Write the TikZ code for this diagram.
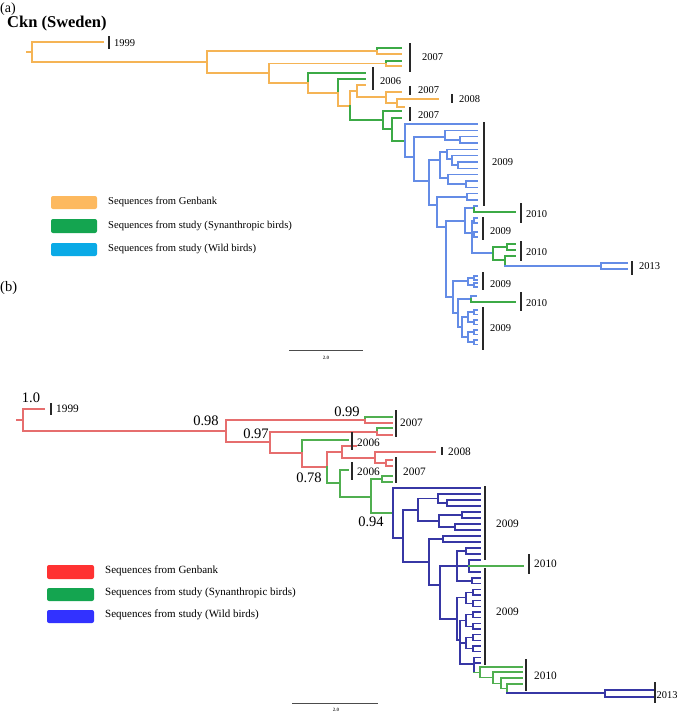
\documentclass[tikz,border=0pt]{standalone}
\usepackage{fontspec}
\setmainfont{Liberation Serif}
\definecolor{aor}{RGB}{245,180,85}
\definecolor{agr}{RGB}{60,170,70}
\definecolor{abl}{RGB}{100,140,230}
\definecolor{bre}{RGB}{230,110,110}
\definecolor{bgr}{RGB}{80,175,80}
\definecolor{bbl}{RGB}{55,55,165}
\definecolor{lor}{RGB}{253,185,95}
\definecolor{lgr}{RGB}{20,165,80}
\definecolor{lbla}{RGB}{10,170,230}
\definecolor{lre}{RGB}{255,50,50}
\definecolor{lblb}{RGB}{50,50,255}
\definecolor{barc}{RGB}{40,40,40}
\tikzset{
 br/.style={line width=1.1pt, line cap=rect},
 ao/.style={br, draw=aor}, ag/.style={br, draw=agr}, ab/.style={br, draw=abl},
 ro/.style={br, draw=bre}, rg/.style={br, draw=bgr}, rb/.style={br, draw=bbl},
 yb/.style={draw=barc, line width=1.4pt},
 ya/.style={anchor=west, inner sep=0pt, font=\fontsize{10.5}{12}\selectfont},
 yc/.style={anchor=west, inner sep=0pt, font=\fontsize{11.3}{13}\selectfont},
 sup/.style={inner sep=0pt, font=\fontsize{14.5}{16}\selectfont},
 swatch/.style={rounded corners=2pt, draw=none},
 legt/.style={anchor=west, inner sep=0pt},
 scl/.style={draw=black!70, line width=0.8pt},
 sct/.style={inner sep=0pt, font=\fontsize{5}{6}\selectfont\bfseries, text=black!75}
}
\begin{document}
\begin{tikzpicture}[x=1pt,y=-1pt]
\useasboundingbox[fill=white] (0,0) rectangle (678,712);

% ================= (a) =================
\node[anchor=west, inner sep=0pt, font=\fontsize{14}{16}\selectfont] (lab_a) at (0,9) {(a)};
\node[anchor=west, inner sep=0pt, font=\fontsize{16.5}{18}\selectfont\bfseries] (title) at (7,24) {Ckn (Sweden)};

% backbone
\draw[ao] (27,52) -- (32,52);
\draw[ao] (32,42) -- (32,62);
\draw[ao] (32,42) -- (103,42);
\draw[ao] (32,62) -- (207,62);
\draw[ao] (207,51) -- (207,73);
\draw[ao] (207,51) -- (377,51);
\draw[ag] (377,48) -- (377,51); \draw[ao] (377,51) -- (377,54);
\draw[ag] (377,48) -- (401,48); \draw[ao] (377,54) -- (401,54);
\draw[ao] (207,73) -- (269,73);
\draw[ao] (269,63.5) -- (269,83);
\draw[ao] (269,63.5) -- (386,63.5);
\draw[ag] (386,61) -- (386,63.5); \draw[ao] (386,63.5) -- (386,66);
\draw[ag] (386,61) -- (401,61); \draw[ao] (386,66) -- (401,66);
\draw[ao] (269,83) -- (308,83);
\draw[ag] (308,73) -- (308,83); \draw[ao] (308,83) -- (308,93);
\draw[ag] (308,73) -- (365,73);
\draw[ao] (308,93) -- (338,93);
\draw[ag] (338,79) -- (338,93); \draw[ao] (338,93) -- (338,106);
\draw[ag] (338,79) -- (365,79);
\draw[ao] (338,106) -- (350,106);
\draw[ao] (350,91) -- (350,106); \draw[ag] (350,106) -- (350,120);
\draw[ao] (350,91) -- (357,91);
\draw[ao] (357,85) -- (357,97);
\draw[ao] (357,85) -- (365,85);
\draw[ao] (357,97) -- (386,97);
\draw[ao] (386,92) -- (386,103);
\draw[ao] (386,92) -- (401,92);
\draw[ao] (386,103) -- (397,103);
\draw[ao] (397,99) -- (397,107);
\draw[ao] (397,99) -- (438,99);
\draw[ao] (397,107) -- (404,107);
\draw[ag] (350,120) -- (383,120);
\draw[ag] (383,111) -- (383,129);
\draw[ag] (383,111) -- (401,111);
\draw[ag] (383,129) -- (392,129);
\draw[ag] (392,118) -- (392,141);
\draw[ag] (392,118) -- (401,118);
\draw[ag] (392,141) -- (405,141);

% blue clade (a)
\draw[ab] (405,124) -- (405,157);
\draw[ab] (405,124) -- (477,124);
\draw[ab] (405,157) -- (414,157);
\draw[ab] (414,137) -- (414,181);
\draw[ab] (414,137) -- (445,137);
\draw[ab] (414,181) -- (429,181);
\draw[ab] (445,130.3) -- (445,140);
\draw[ab] (445,130.3) -- (477,130.3);
\draw[ab] (445,140) -- (460,140);
\draw[ab] (460,136.7) -- (460,143);
\draw[ab] (460,136.7) -- (477,136.7);
\draw[ab] (460,143) -- (477,143);
\draw[ab] (429,160) -- (429,205);
\draw[ab] (429,160) -- (440,160);
\draw[ab] (429,205) -- (437,205);
\draw[ab] (440,152) -- (440,178);
\draw[ab] (440,152) -- (447,152);
\draw[ab] (440,178) -- (448,178);
\draw[ab] (447,149.3) -- (447,159);
\draw[ab] (447,149.3) -- (477,149.3);
\draw[ab] (447,159) -- (452,159);
\draw[ab] (452,155.7) -- (452,165);
\draw[ab] (452,155.7) -- (477,155.7);
\draw[ab] (452,165) -- (458,165);
\draw[ab] (458,162) -- (458,168.3);
\draw[ab] (458,162) -- (477,162);
\draw[ab] (458,168.3) -- (477,168.3);
\draw[ab] (448,174.7) -- (448,184);
\draw[ab] (448,174.7) -- (477,174.7);
\draw[ab] (448,184) -- (466,184);
\draw[ab] (466,181) -- (466,187.3);
\draw[ab] (466,181) -- (477,181);
\draw[ab] (466,187.3) -- (477,187.3);
\draw[ab] (437,197) -- (437,227);
\draw[ab] (437,197) -- (467,197);
\draw[ab] (437,227) -- (446,227);
\draw[ab] (467,193.7) -- (467,200);
\draw[ab] (467,193.7) -- (477,193.7);
\draw[ab] (467,200) -- (477,200);
\draw[ab] (446,221) -- (446,297);
\draw[ab] (446,221) -- (465,221);
\draw[ab] (446,297) -- (453,297);
\draw[ab] (465,208) -- (465,233);
\draw[ab] (465,208) -- (474,208);
\draw[ab] (465,233) -- (472,233);
\draw[ab] (474,206) -- (474,208); \draw[ag] (474,208) -- (474,212);
\draw[ab] (474,206) -- (477,206);
\draw[ag] (474,212) -- (515,212);
\draw[ab] (472,220.5) -- (472,253);
\draw[ab] (472,220.5) -- (474,220.5);
\draw[ab] (472,234.5) -- (474,234.5);
\draw[ab] (472,253) -- (493,253);
\draw[ab] (474,218) -- (474,223); \draw[ab] (474,218) -- (477,218); \draw[ab] (474,223) -- (477,223);
\draw[ab] (474,232) -- (474,237); \draw[ab] (474,232) -- (477,232); \draw[ab] (474,237) -- (477,237);
\draw[ag] (493,247) -- (493,260);
\draw[ag] (493,247) -- (507,247);
\draw[ag] (493,260) -- (505,260);
\draw[ag] (507,244) -- (507,250);
\draw[ag] (507,244) -- (515,244);
\draw[ag] (507,250) -- (515,250);
\draw[ag] (505,256) -- (505,266);
\draw[ag] (505,256) -- (515,256);
\draw[ab] (505,266) -- (601,266);
\draw[ab] (601,263) -- (601,269);
\draw[ab] (601,263) -- (627,263);
\draw[ab] (601,269) -- (627,269);
\draw[ab] (453,281) -- (453,313);
\draw[ab] (453,281) -- (468,281);
\draw[ab] (453,313) -- (458,313);
\draw[ab] (468,278) -- (468,285);
\draw[ab] (468,278) -- (474,278);
\draw[ab] (468,285) -- (474,285);
\draw[ab] (474,276) -- (474,280); \draw[ab] (474,276) -- (477,276); \draw[ab] (474,280) -- (477,280);
\draw[ab] (474,283) -- (474,287); \draw[ab] (474,283) -- (477,283); \draw[ab] (474,287) -- (477,287);
\draw[ab] (458,299) -- (458,327);
\draw[ab] (458,299) -- (471,299);
\draw[ab] (458,327) -- (462,327);
\draw[ab] (471,296) -- (471,299); \draw[ag] (471,299) -- (471,302);
\draw[ab] (471,296) -- (476,296);
\draw[ag] (471,302) -- (515,302);
\draw[ab] (462,317) -- (462,337);
\draw[ab] (462,317) -- (468,317);
\draw[ab] (462,337) -- (468,337);
\draw[ab] (468,312) -- (468,322); \draw[ab] (468,312) -- (474,312); \draw[ab] (468,322) -- (474,322);
\draw[ab] (468,332) -- (468,342); \draw[ab] (468,332) -- (474,332); \draw[ab] (468,342) -- (474,342);
\foreach \y in {310,320,330,340} {
  \draw[ab] (474,\y) -- (474,\y+4.5);
  \draw[ab] (474,\y) -- (477,\y);
  \draw[ab] (474,\y+4.5) -- (477,\y+4.5);
}

% year bars (a)
\draw[yb] (109,36) -- (109,49);   \node[ya] (a1999) at (114,43) {1999};
\draw[yb] (410,43) -- (410,72);   \node[ya] (a2007a) at (422,57) {2007};
\draw[yb] (373,67) -- (373,90);   \node[ya] (a2006) at (380,81) {2006};
\draw[yb] (410,86) -- (410,95);   \node[ya] (a2007b) at (418,90) {2007};
\draw[yb] (452,94) -- (452,103);  \node[ya] (a2008) at (459,99) {2008};
\draw[yb] (410,107) -- (410,121); \node[ya] (a2007c) at (418,115) {2007};
\draw[yb] (484,122) -- (484,206); \node[ya] (a2009a) at (492,162) {2009};
\draw[yb] (521,203) -- (521,223); \node[ya] (a2010a) at (526,214) {2010};
\draw[yb] (483,217) -- (483,240); \node[ya] (a2009b) at (490,231) {2009};
\draw[yb] (521,241) -- (521,261); \node[ya] (a2010b) at (526,252) {2010};
\draw[yb] (632,261) -- (632,275); \node[ya] (a2013) at (639,266) {2013};
\draw[yb] (483,272) -- (483,290); \node[ya] (a2009c) at (490,284) {2009};
\draw[yb] (521,292) -- (521,311); \node[ya] (a2010c) at (526,303) {2010};
\draw[yb] (483,307) -- (483,350); \node[ya] (a2009d) at (490,328) {2009};

% legend (a)
\fill[swatch, lor] (51,196) rectangle (97,209);
\fill[swatch, lgr] (51,219) rectangle (97,233);
\fill[swatch, lbla] (51,243) rectangle (97,256);
\begin{scope}[every node/.style={legt, font=\fontsize{10.6}{12}\selectfont}]
\node (la1) at (108,202) {Sequences from Genbank};
\node (la2) at (108,225.5) {Sequences from study (Synanthropic birds)};
\node (la3) at (108,249) {Sequences from study (Wild birds)};
\end{scope}

% scale (a)
\draw[scl] (289,350) -- (363,350);
\node[sct] (sca) at (326,358) {2.0};

% ================= (b) =================
\node[anchor=west, inner sep=0pt, font=\fontsize{14.5}{16}\selectfont] (lab_b) at (0,288) {(b)};

\draw[ro] (17,420) -- (23,420);
\draw[ro] (23,409) -- (23,431);
\draw[ro] (23,409) -- (44,409);
\draw[ro] (23,431) -- (226,431);
\draw[ro] (226,420) -- (226,442);
\draw[ro] (226,420) -- (365,420);
\draw[rg] (365,417) -- (365,420); \draw[ro] (365,420) -- (365,423);
\draw[rg] (365,417) -- (392,417); \draw[ro] (365,423) -- (392,423);
\draw[ro] (226,442) -- (270,442);
\draw[ro] (270,432) -- (270,453);
\draw[ro] (270,432) -- (377,432);
\draw[rg] (377,428) -- (377,432); \draw[ro] (377,432) -- (377,435);
\draw[rg] (377,428) -- (392,428); \draw[ro] (377,435) -- (392,435);
\draw[ro] (270,453) -- (302,453);
\draw[rg] (302,440) -- (302,453); \draw[ro] (302,453) -- (302,467);
\draw[rg] (302,440) -- (348,440);
\draw[ro] (302,467) -- (327,467);
\draw[ro] (327,452) -- (327,467); \draw[rg] (327,467) -- (327,483);
\draw[ro] (327,452) -- (342,452);
\draw[ro] (342,446) -- (342,458);
\draw[ro] (342,446) -- (356,446);
\draw[ro] (342,458) -- (375,458);
\draw[ro] (375,452) -- (375,463);
\draw[ro] (375,452) -- (435,452);
\draw[ro] (375,463) -- (386,463);
\draw[ro] (386,460) -- (386,466);
\draw[ro] (386,460) -- (392,460);
\draw[ro] (386,466) -- (392,466);
\draw[rg] (327,483) -- (340,483);
\draw[rg] (340,470) -- (340,497);
\draw[rg] (340,470) -- (348,470);
\draw[rg] (340,497) -- (371,497);
\draw[rg] (371,479) -- (371,513);
\draw[rg] (371,479) -- (382,479);
\draw[rg] (382,476) -- (382,482);
\draw[rg] (382,476) -- (392,476);
\draw[rg] (382,482) -- (392,482);
\draw[rg] (371,513) -- (393,513);

% blue clade (b)
\draw[rb] (393,488) -- (393,538);
\draw[rb] (393,488) -- (480,488);
\draw[rb] (393,538) -- (403,538);
\draw[rb] (403,510) -- (403,562);
\draw[rb] (403,510) -- (418,510);
\draw[rb] (403,562) -- (429,562);
\draw[rb] (418,498.5) -- (418,521);
\draw[rb] (418,498.5) -- (438,498.5);
\draw[rb] (418,521) -- (439,521);
\draw[rb] (438,494) -- (438,503);
\draw[rb] (438,494) -- (480,494);
\draw[rb] (438,503) -- (447,503);
\draw[rb] (447,500) -- (447,506);
\draw[rb] (447,500) -- (480,500);
\draw[rb] (447,506) -- (480,506);
\draw[rb] (439,515) -- (439,527);
\draw[rb] (439,515) -- (462,515);
\draw[rb] (439,527) -- (455,527);
\draw[rb] (462,512) -- (462,518);
\draw[rb] (462,512) -- (480,512);
\draw[rb] (462,518) -- (480,518);
\draw[rb] (455,524) -- (455,530);
\draw[rb] (455,524) -- (480,524);
\draw[rb] (455,530) -- (480,530);
\draw[rb] (429,539) -- (429,585);
\draw[rb] (429,539) -- (443,539);
\draw[rb] (429,585) -- (440,585);
\draw[rb] (443,536) -- (443,542);
\draw[rb] (443,536) -- (480,536);
\draw[rb] (443,542) -- (480,542);
\draw[rb] (440,566) -- (440,619);
\draw[rb] (440,566) -- (457,566);
\draw[rb] (440,619) -- (457,619);
\draw[rb] (457,551) -- (457,581);
\draw[rb] (457,551) -- (466,551);
\draw[rb] (457,566) -- (469,566);
\draw[rb] (457,581) -- (472,581);
\draw[rb] (466,548) -- (466,554);
\draw[rb] (466,548) -- (480,548);
\draw[rb] (466,554) -- (480,554);
\draw[rb] (469,560) -- (469,572);
\draw[rb] (469,560) -- (480,560);
\draw[rg] (469,566) -- (523,566);
\draw[rb] (469,572) -- (480,572);
\draw[rb] (472,578) -- (472,583.7);
\draw[rb] (472,578) -- (480,578);
\draw[rb] (472,583.7) -- (480,583.7);
\draw[rb] (457,597.8) -- (457,640);
\draw[rb] (457,597.8) -- (466,597.8);
\draw[rb] (457,640) -- (460,640);
\draw[rb] (466,592.2) -- (466,603.5);
\draw[rb] (466,592.2) -- (473,592.2);
\draw[rb] (466,603.5) -- (473,603.5);
\draw[rb] (460,620.5) -- (460,664);
\draw[rb] (460,620.5) -- (466,620.5);
\draw[rb] (460,643) -- (466,643);
\draw[rb] (460,664) -- (474,664);
\draw[rb] (466,614.8) -- (466,626.2);
\draw[rb] (466,614.8) -- (473,614.8);
\draw[rb] (466,626.2) -- (473,626.2);
\draw[rb] (466,637.5) -- (466,648.8);
\draw[rb] (466,637.5) -- (473,637.5);
\draw[rb] (466,648.8) -- (473,648.8);
\foreach \y in {589.3,600.7,612,623.3,634.7,646} {
  \draw[rb] (473,\y) -- (473,\y+5.7);
  \draw[rb] (473,\y) -- (480,\y);
  \draw[rb] (473,\y+5.7) -- (480,\y+5.7);
}
\draw[rb] (474,657.3) -- (474,672.3);
\draw[rb] (474,657.3) -- (480,657.3);
\draw[rb] (474,663) -- (480,663);
\draw[rg] (474,672.3) -- (480,672.3);
\draw[rg] (480,667) -- (480,677.6);
\draw[rg] (480,667) -- (522,667);
\draw[rg] (480,677.6) -- (493,677.6);
\draw[rg] (493,672) -- (493,683.2);
\draw[rg] (493,672) -- (522,672);
\draw[rg] (493,683.2) -- (501,683.2);
\draw[rg] (501,678) -- (501,688.5);
\draw[rg] (501,678) -- (522,678);
\draw[rg] (501,688.5) -- (507,688.5);
\draw[rg] (507,684) -- (507,693);
\draw[rg] (507,684) -- (522,684);
\draw[rb] (507,693) -- (605,693);
\draw[rb] (605,690) -- (605,697);
\draw[rb] (605,690) -- (653,690);
\draw[rb] (605,697) -- (653,697);

% support values (b)
\node[sup] (s10) at (31,398) {1.0};
\node[sup] (s98) at (206,421) {0.98};
\node[sup] (s99) at (347,412) {0.99};
\node[sup] (s97) at (256,434) {0.97};
\node[sup] (s78) at (309,478) {0.78};
\node[sup] (s94) at (371,522) {0.94};

% year bars (b)
\draw[yb] (51,403) -- (51,415);   \node[yc] (b1999) at (56,409) {1999};
\draw[yb] (396,410) -- (396,437); \node[yc] (b2007a) at (400,423) {2007};
\draw[yb] (352,432) -- (352,450); \node[yc] (b2006a) at (357,443) {2006};
\draw[yb] (442,447) -- (442,455); \node[yc] (b2008) at (448,452) {2008};
\draw[yb] (352,462) -- (352,480); \node[yc] (b2006b) at (357,472) {2006};
\draw[yb] (396,457) -- (396,483); \node[yc] (b2007b) at (403,472) {2007};
\draw[yb] (485,486) -- (485,560); \node[yc] (b2009a) at (496,524) {2009};
\draw[yb] (529,554) -- (529,574); \node[yc] (b2010a) at (534,564) {2010};
\draw[yb] (485,568) -- (485,665); \node[yc] (b2009b) at (496,612) {2009};
\draw[yb] (526,659) -- (526,691); \node[yc] (b2010b) at (534,676) {2010};
\draw[yb] (655,682) -- (655,703); \node[anchor=west, inner sep=0pt, font=\fontsize{10.4}{12}\selectfont] (b2013) at (656.5,695) {2013};

% legend (b)
\fill[swatch, lre] (47,565) rectangle (94,579);
\fill[swatch, lgr] (47,588) rectangle (94,601);
\fill[swatch, lblb] (47,610) rectangle (94,623);
\begin{scope}[every node/.style={legt, font=\fontsize{11}{13}\selectfont}]
\node (lb1) at (105,571) {Sequences from Genbank};
\node (lb2) at (105,593) {Sequences from study (Synanthropic birds)};
\node (lb3) at (105,615) {Sequences from study (Wild birds)};
\end{scope}

% scale (b)
\draw[scl] (292,703) -- (378,703);
\node[sct] (scb) at (336,710) {2.0};
\end{tikzpicture}
\end{document}
